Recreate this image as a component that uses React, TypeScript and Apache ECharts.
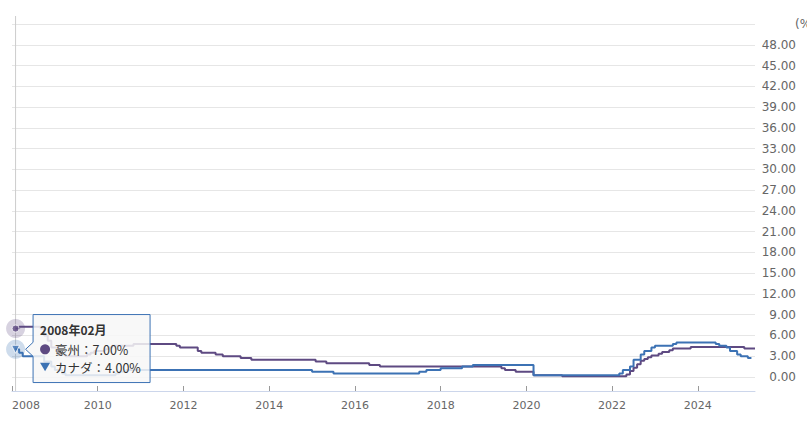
import React, { useEffect, useRef } from 'react';
import * as echarts from 'echarts';

const ausName = '豪州';
const canName = 'カナダ';

// Policy rate change points (month, rate %) — step lines
const ausDates = [
  '2008-02', '2008-03', '2008-09', '2008-10', '2008-11', '2008-12', '2009-02', '2009-04',
  '2009-10', '2009-11', '2009-12', '2010-03', '2010-04', '2010-05', '2010-11', '2011-11',
  '2011-12', '2012-05', '2012-06', '2012-10', '2012-12', '2013-05', '2013-08', '2015-02',
  '2015-05', '2016-05', '2016-08', '2019-06', '2019-07', '2019-10', '2020-03', '2020-11',
  '2022-05', '2022-06', '2022-07', '2022-08', '2022-09', '2022-10', '2022-11', '2022-12',
  '2023-02', '2023-03', '2023-05', '2023-06', '2023-11', '2025-02', '2025-05',
];
const ausRates = [
  7.0, 7.25, 7.0, 6.0, 5.25, 4.25, 3.25, 3.0,
  3.25, 3.5, 3.75, 4.0, 4.25, 4.5, 4.75, 4.5,
  4.25, 3.75, 3.5, 3.25, 3.0, 2.75, 2.5, 2.25,
  2.0, 1.75, 1.5, 1.25, 1.0, 0.75, 0.25, 0.1,
  0.35, 0.85, 1.35, 1.85, 2.35, 2.6, 2.85, 3.1,
  3.35, 3.6, 3.85, 4.1, 4.35, 4.1, 4.1,
];

const canDates = [
  '2008-02', '2008-03', '2008-04', '2008-10', '2008-12', '2009-01', '2009-03', '2009-04',
  '2010-06', '2010-07', '2010-09', '2015-01', '2015-07', '2017-07', '2017-09', '2018-01',
  '2018-07', '2018-10', '2020-03', '2022-03', '2022-04', '2022-06', '2022-07', '2022-09',
  '2022-10', '2022-12', '2023-01', '2023-06', '2023-07', '2024-06', '2024-07', '2024-09',
  '2024-10', '2024-12', '2025-01', '2025-03', '2025-04',
];
const canRates = [
  4.0, 3.5, 3.0, 2.25, 1.5, 1.0, 0.5, 0.25,
  0.5, 0.75, 1.0, 0.75, 0.5, 0.75, 1.0, 1.25,
  1.5, 1.75, 0.25, 0.5, 1.0, 1.5, 2.5, 3.25,
  3.75, 4.25, 4.5, 4.75, 5.0, 4.75, 4.5, 4.25,
  3.75, 3.25, 3.0, 2.75, 2.75,
];

const xTickYears = [2008, 2010, 2012, 2014, 2016, 2018, 2020, 2022, 2024];
const xStart = '2008-01';
const xEnd = '2025-05';
const yMin = 0;
const yMax = 51;
const yInterval = 3;
const yUnit = '(%)';
const tooltipTitle = '2008年02月';

const PURPLE = '#5e4a82';
const BLUE = '#3c72b4';
const AXIS_FONT = 'DejaVu Sans';
const CJK_FONT = 'Noto Sans CJK JP';

function toYear(s: string): number {
  const [y, m] = s.split('-').map(Number);
  return y + (m - 1) / 12;
}
function pairs(dates: string[], rates: number[]) {
  return dates.map((d, i) => [toYear(d), rates[i]]);
}

export default function App() {
  const ref = useRef<HTMLDivElement>(null);
  useEffect(() => {
    if (!ref.current) return;
    const chart = echarts.init(ref.current, undefined, { renderer: 'svg' });
    const x0 = toYear(ausDates[0]);
    const ausPt = [x0, ausRates[0]];
    const canPt = [toYear(canDates[0]), canRates[0]];
    const option: any = {
      animation: false,
      textStyle: { fontFamily: AXIS_FONT },
      grid: { left: 12, right: 52, top: 24, bottom: 44, containLabel: false, outerBoundsMode: 'none' },
      xAxis: {
        type: 'value',
        min: toYear(xStart),
        max: toYear(xEnd),
        offset: 14,
        splitLine: { show: false },
        axisLine: { show: true, onZero: false, lineStyle: { color: '#ccd6eb', width: 1 } },
        axisTick: { show: true, inside: true, length: 5, lineStyle: { color: '#999' }, customValues: xTickYears },
        axisLabel: {
          customValues: xTickYears,
          color: '#666',
          fontSize: 11,
          fontFamily: AXIS_FONT,
          margin: 9,
          alignMinLabel: 'left',
          formatter: (v: number) => String(Math.round(v)),
        },
      },
      yAxis: {
        type: 'value',
        position: 'right',
        min: yMin,
        max: yMax,
        interval: yInterval,
        name: yUnit,
        nameLocation: 'end',
        nameGap: 0,
        nameTextStyle: {
          color: '#666',
          fontSize: 12,
          fontFamily: AXIS_FONT,
          align: 'left',
          verticalAlign: 'middle',
          padding: [0, 0, 0, 40],
        },
        axisLine: { show: false },
        axisTick: { show: false },
        splitLine: { show: true, lineStyle: { color: '#e6e6e6', width: 1 } },
        axisLabel: {
          color: '#666',
          fontSize: 12,
          fontFamily: AXIS_FONT,
          align: 'right',
          margin: 41,
          showMaxLabel: false,
          formatter: (v: number) => v.toFixed(2),
        },
      },
      series: [
        {
          type: 'line',
          name: ausName,
          data: pairs(ausDates, ausRates),
          step: 'end',
          showSymbol: false,
          symbol: 'none',
          lineStyle: { color: PURPLE, width: 2 },
          itemStyle: { color: PURPLE },
          z: 3,
        },
        {
          type: 'line',
          name: canName,
          data: pairs(canDates, canRates),
          step: 'end',
          showSymbol: false,
          symbol: 'none',
          lineStyle: { color: BLUE, width: 2 },
          itemStyle: { color: BLUE },
          z: 3,
        },
        {
          type: 'scatter', silent: true, z: 4,
          data: [ausPt], symbol: 'circle', symbolSize: 19,
          itemStyle: { color: PURPLE, opacity: 0.25 },
        },
        {
          type: 'scatter', silent: true, z: 5,
          data: [ausPt], symbol: 'circle', symbolSize: 7,
          itemStyle: { color: PURPLE, borderColor: '#fff', borderWidth: 1 },
        },
        {
          type: 'scatter', silent: true, z: 4,
          data: [canPt], symbol: 'circle', symbolSize: 19,
          itemStyle: { color: BLUE, opacity: 0.25 },
        },
        {
          type: 'scatter', silent: true, z: 5,
          data: [canPt], symbol: 'triangle', symbolRotate: 180, symbolSize: 8,
          itemStyle: { color: BLUE, borderColor: '#fff', borderWidth: 1 },
        },
      ],
    };
    chart.setOption(option);

    const px = chart.convertToPixel({ xAxisIndex: 0 }, x0) as number;
    const pyA = chart.convertToPixel({ yAxisIndex: 0 }, ausRates[0]) as number;
    const pyC = chart.convertToPixel({ yAxisIndex: 0 }, canRates[0]) as number;
    const bx = px + 17.5;
    const bw = 117;
    const by = pyA - 14;
    const bh = 68;
    const fmt = (v: number) => v.toFixed(2) + '%';

    chart.setOption({
      graphic: {
        elements: [
          {
            type: 'line', z: 1, silent: true,
            shape: { x1: px, y1: 16, x2: px, y2: 391 },
            style: { stroke: '#cccccc', lineWidth: 1 },
          },
          {
            type: 'polygon', z: 100, silent: true,
            shape: {
              points: [
                [bx, by], [bx + bw, by], [bx + bw, by + bh], [bx, by + bh],
                [bx, pyC + 7], [px + 10, pyC], [bx, pyC - 7],
              ],
            },
            style: { fill: 'rgba(247,247,247,0.85)', stroke: BLUE, lineWidth: 1 },
          },
          {
            type: 'text', z: 101, silent: true, x: bx + 7, y: pyA + 1,
            style: {
              text: tooltipTitle, fill: '#333', font: `bold 12px "${CJK_FONT}"`,
              verticalAlign: 'middle',
            },
          },
          {
            type: 'circle', z: 101, silent: true,
            shape: { cx: bx + 12, cy: pyC, r: 5 },
            style: { fill: PURPLE },
          },
          {
            type: 'text', z: 101, silent: true, x: bx + 22, y: pyC,
            style: {
              text: `${ausName}：${fmt(ausRates[0])}`, fill: '#333', font: `12.5px "${CJK_FONT}"`,
              verticalAlign: 'middle',
            },
          },
          {
            type: 'polygon', z: 101, silent: true,
            shape: { points: [[bx + 7, pyC + 13.5], [bx + 17, pyC + 13.5], [bx + 12, pyC + 22]] },
            style: { fill: BLUE },
          },
          {
            type: 'text', z: 101, silent: true, x: bx + 22, y: pyC + 18,
            style: {
              text: `${canName}：${fmt(canRates[0])}`, fill: '#333', font: `12.5px "${CJK_FONT}"`,
              verticalAlign: 'middle',
            },
          },
        ],
      },
    });

    return () => chart.dispose();
  }, []);
  return (
    <div
      ref={ref}
      style={{ position: 'absolute', left: 0, top: 0, width: 807, height: 421 }}
    />
  );
}
